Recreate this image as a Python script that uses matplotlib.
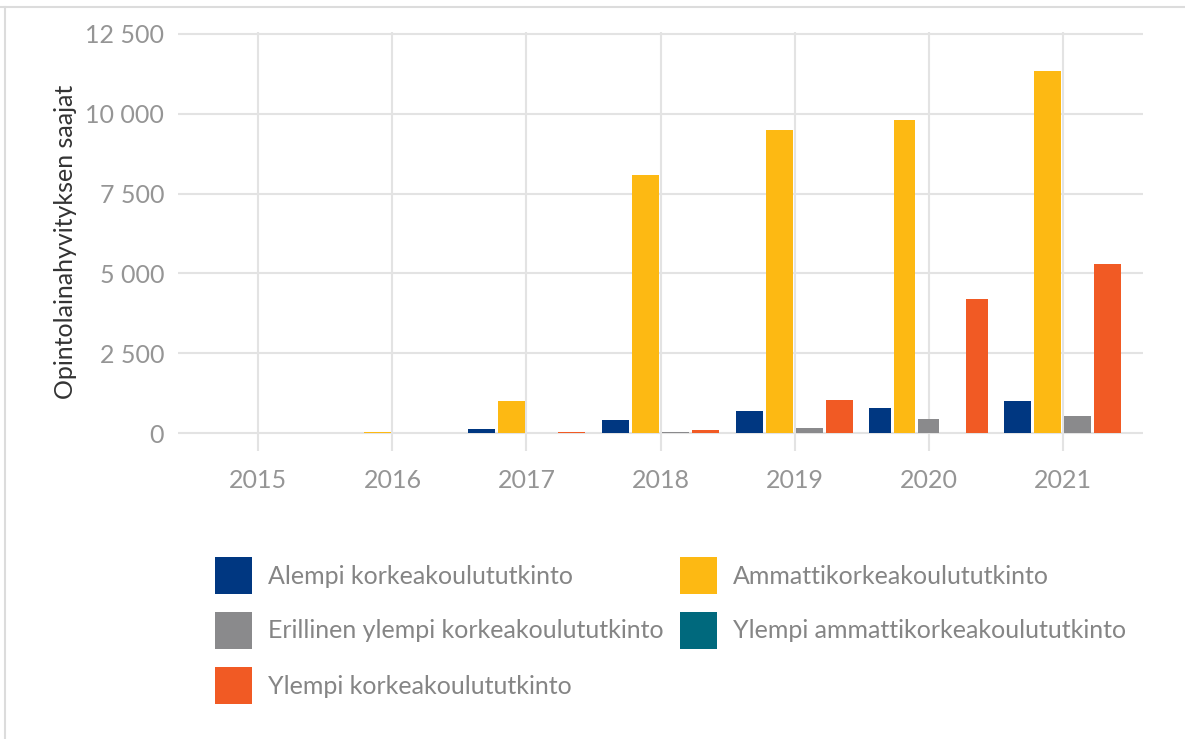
import numpy as np
import matplotlib.pyplot as plt
from matplotlib.patches import Patch
from matplotlib.lines import Line2D
from matplotlib.ticker import FuncFormatter

plt.rcParams["font.family"] = ["Lato", "DejaVu Sans"]

years = [2015, 2016, 2017, 2018, 2019, 2020, 2021]
series = [
    "Alempi korkeakoulututkinto",
    "Ammattikorkeakoulututkinto",
    "Erillinen ylempi korkeakoulututkinto",
    "Ylempi ammattikorkeakoulututkinto",
    "Ylempi korkeakoulututkinto",
]
nan = np.nan
alempi = [nan, 12, 125, 400, 695, 805, 995]
ammatti = [nan, 35, 1020, 8090, 9500, 9810, 11335]
erillinen = [nan, 5, 15, 40, 160, 455, 548]
ylempi_amk = [nan, nan, nan, nan, nan, 0, nan]
ylempi_kk = [nan, 15, 25, 110, 1035, 4200, 5305]
colors = ["#003781", "#fdb913", "#8a8a8c", "#00697d", "#f15a24"]

values = np.array([alempi, ammatti, erillinen, ylempi_amk, ylempi_kk])

fig = plt.figure(figsize=(11.85, 7.39), dpi=100)
ax = fig.add_axes([178 / 1185, 1 - 451 / 739, 965 / 1185, 419 / 739])

# dodge: bars share 0.9 of the slot among the series present that year
for i in range(len(years)):
    present = [s for s in range(len(series)) if not np.isnan(values[s, i])]
    if not present:
        continue
    slot = 0.9 / len(present)
    for k, s in enumerate(present):
        ax.bar(i - 0.45 + slot * (k + 0.5), values[s, i], width=slot * 0.9,
               color=colors[s], zorder=3)

ax.set_xlim(-0.6, len(years) - 0.4)
ax.set_ylim(-555, 12555)
ax.set_xticks(range(len(years)))
ax.set_xticklabels([str(y) for y in years])
ax.set_yticks(np.arange(0, 12501, 2500))
ax.yaxis.set_major_formatter(FuncFormatter(lambda v, p: f"{v:,.0f}".replace(",", " ")))
ax.tick_params(length=0, labelsize=18, labelcolor="#959595")
ax.tick_params(axis="x", pad=13)
ax.tick_params(axis="y", pad=10)
ax.grid(True, color="#e3e3e3", linewidth=1.5, zorder=0)
for sp in ax.spines.values():
    sp.set_visible(False)
ax.set_ylabel("Opintolainahyvityksen saajat", fontsize=18, color="#333333",
              labelpad=6)

order = [0, 2, 4, 1, 3]
handles = [Patch(facecolor=colors[s], edgecolor="none") for s in order]
labels = [series[s] for s in order]
leg = fig.legend(handles, labels, ncol=2, loc="upper left",
                 bbox_to_anchor=(215 / 1185, 1 - 557 / 739), frameon=False,
                 fontsize=18, handlelength=1.48, handleheight=1.9,
                 handletextpad=0.64, labelspacing=0.72, columnspacing=0.64,
                 borderpad=0, borderaxespad=0)
for t in leg.get_texts():
    t.set_color("#858585")

# light frame around the figure
fig.add_artist(Line2D([0, 1], [1 - 7 / 739] * 2, color="#dcdcdc", lw=1.5,
                      transform=fig.transFigure))
fig.add_artist(Line2D([5 / 1185] * 2, [0, 1 - 7 / 739], color="#dcdcdc", lw=1.5,
                      transform=fig.transFigure))

fig.savefig("out.png", dpi=100)
